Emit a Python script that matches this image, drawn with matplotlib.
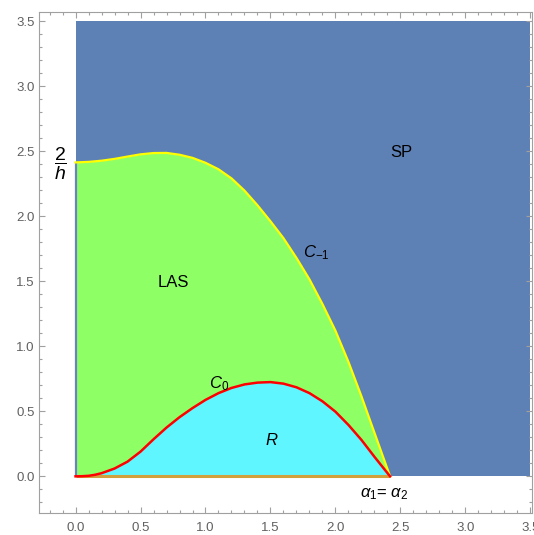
import matplotlib
matplotlib.use("Agg")
import matplotlib.pyplot as plt
from matplotlib.ticker import MultipleLocator, FormatStrFormatter

plt.rcParams['font.family'] = ['Liberation Sans', 'DejaVu Sans']
plt.rcParams['mathtext.fontset'] = 'custom'
plt.rcParams['mathtext.rm'] = 'Liberation Sans'
plt.rcParams['mathtext.it'] = 'Liberation Sans:italic'
plt.rcParams['mathtext.bf'] = 'Liberation Sans:bold'

# ---- data ----
# curve C_{-1} (upper boundary of the LAS region)
c1_x = [0.00, 0.10, 0.20, 0.30, 0.40, 0.50, 0.60, 0.70, 0.80, 0.90, 1.00, 1.10,
        1.20, 1.30, 1.40, 1.50, 1.60, 1.70, 1.80, 1.90, 2.00, 2.10, 2.20, 2.30, 2.42]
c1_y = [2.415, 2.419, 2.428, 2.442, 2.460, 2.477, 2.487, 2.488, 2.474, 2.450,
        2.412, 2.362, 2.292, 2.198, 2.085, 1.962, 1.832, 1.680, 1.515, 1.325,
        1.120, 0.880, 0.615, 0.335, 0.0]
# curve C_0 (upper boundary of the R region)
c0_x = [0.00, 0.05, 0.10, 0.15, 0.20, 0.30, 0.40, 0.50, 0.60, 0.70, 0.80, 0.90,
        1.00, 1.10, 1.20, 1.30, 1.40, 1.50, 1.60, 1.70, 1.80, 1.90, 2.00, 2.10,
        2.20, 2.30, 2.42]
c0_y = [0.000, 0.001, 0.004, 0.012, 0.024, 0.060, 0.113, 0.190, 0.285, 0.375,
        0.455, 0.525, 0.588, 0.640, 0.680, 0.707, 0.721, 0.725, 0.713, 0.685,
        0.640, 0.577, 0.497, 0.395, 0.280, 0.150, 0.000]
# SP region extent
sp_x = [0.0, 3.5]
sp_top = 3.5
# boundary segments
alpha_x = [0.0, 2.42]   # alpha1 = alpha2 line at y = 0
axis_y = [0.0, 2.415]   # vertical segment at x = 0

region_labels = ["SP", "LAS", r"$C_{-1}$", r"$C_0$", r"$R$"]
tick_vals = [0.0, 0.5, 1.0, 1.5, 2.0, 2.5, 3.0, 3.5]

# ---- colours ----
c_sp = "#5E81B5"
c_las = "#8FFF66"
c_r = "#60F6FF"
c_yellow = "#FFFF00"
c_red = "#FF0000"
c_orange = "#D2A03C"
c_left = "#6C80C4"
c_frame = "#A0A0A0"
c_ticklab = "#606060"

fig = plt.figure(figsize=(5.34, 5.35), dpi=100)
W, H = 534, 535
ax = fig.add_axes([39 / W, 1 - 513 / H, (532 - 39) / W, (513 - 12) / H])

ax.fill_between(sp_x, [0, 0], [sp_top, sp_top], color=c_sp, lw=0, zorder=1)
ax.fill_between(c1_x, 0, c1_y, color=c_las, lw=0, zorder=2)
ax.fill_between(c0_x, 0, c0_y, color=c_r, lw=0, zorder=3)

ax.plot([0, 0], axis_y, color=c_left, lw=1.6, zorder=4, solid_capstyle='butt')
ax.plot(alpha_x, [0, 0], color=c_orange, lw=2.2, zorder=4, solid_capstyle='butt')
ax.plot(c1_x, c1_y, color=c_yellow, lw=1.6, zorder=5, solid_joinstyle='round')
ax.plot(c0_x, c0_y, color=c_red, lw=1.8, zorder=6, solid_joinstyle='round')

ax.set_xlim(-0.281, 3.512)
ax.set_ylim(-0.282, 3.572)

# labels
ax.text(2.504, 2.495, region_labels[0], fontsize=12, ha='center', va='center', zorder=7)
ax.text(0.751, 1.491, region_labels[1], fontsize=12, ha='center', va='center', zorder=7)
ax.text(1.75, 1.687, region_labels[2], fontsize=12, ha='left', va='baseline', zorder=7)
ax.text(1.027, 0.68, region_labels[3], fontsize=12, ha='left', va='baseline', zorder=7)
ax.text(1.508, 0.241, region_labels[4], fontsize=12, ha='center', va='baseline', zorder=7)
ax.text(2.19, -0.16, r"$\alpha_1$= $\alpha_2$", fontsize=12, ha='left', va='baseline', zorder=7)
ax.text(-0.12, 2.40, r"$\dfrac{\mathrm{2}}{h}$", fontsize=14, ha='center', va='center',
        clip_on=False, zorder=7)

# frame and ticks
for s in ax.spines.values():
    s.set_color(c_frame)
    s.set_linewidth(0.8)
ax.xaxis.set_major_locator(MultipleLocator(0.5))
ax.yaxis.set_major_locator(MultipleLocator(0.5))
ax.xaxis.set_minor_locator(MultipleLocator(0.1))
ax.yaxis.set_minor_locator(MultipleLocator(0.1))
ax.set_xticks(tick_vals)
ax.set_yticks(tick_vals)
ax.xaxis.set_major_formatter(FormatStrFormatter('%.1f'))
ax.yaxis.set_major_formatter(FormatStrFormatter('%.1f'))
ax.tick_params(which='both', direction='in', top=True, right=True, color=c_frame,
               width=0.8, labelcolor=c_ticklab, labelsize=9.5)
ax.tick_params(which='major', length=4.2)
ax.tick_params(which='minor', length=2.3)
ax.tick_params(axis='x', which='major', pad=6.5)
ax.tick_params(axis='y', which='major', pad=3)

fig.savefig("out.png", dpi=100)
